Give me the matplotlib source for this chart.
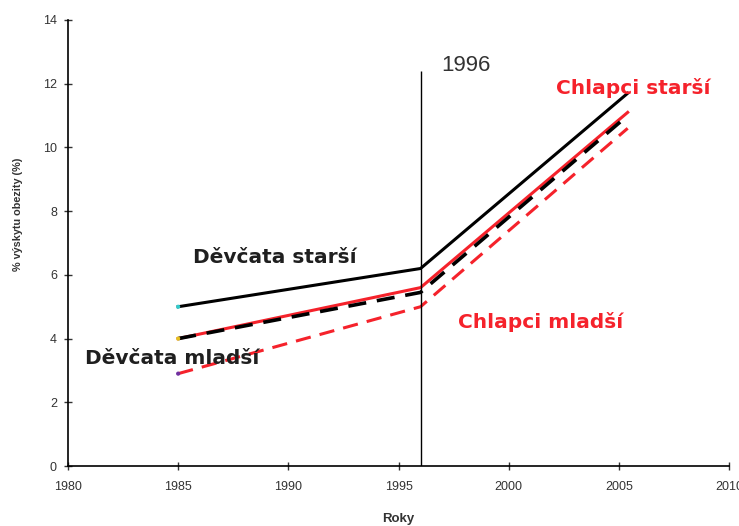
import matplotlib.pyplot as plt

years = [1985, 1996, 2005.4]
divky_starsi = [5.0, 6.2, 11.7]
chlapci_starsi = [4.0, 5.6, 11.1]
divky_mladsi = [4.0, 5.45, 11.0]
chlapci_mladsi = [2.9, 5.0, 10.6]

x_ticks = [1980, 1985, 1990, 1995, 2000, 2005, 2010]
y_ticks = [0, 2, 4, 6, 8, 10, 12, 14]

RED = '#f5222b'
DARK = '#1f1f1f'
GREY = '#333333'

plt.rcParams['font.family'] = ['Liberation Sans', 'DejaVu Sans']

fig = plt.figure(figsize=(7.39, 5.26), dpi=100)
ax = fig.add_axes([0.092, 0.114, 0.8945, 0.848])

ax.plot(years, divky_starsi, color='black', lw=2.2)
ax.plot(years, chlapci_starsi, color=RED, lw=2.2)
ax.plot(years, divky_mladsi, color='black', lw=2.6, dashes=(5, 3))
ax.plot(years, chlapci_mladsi, color=RED, lw=2.2, dashes=(5, 3))

# small coloured dots at the first points, as in the source
ax.scatter([1985, 1985, 1985], [divky_starsi[0], divky_mladsi[0], chlapci_mladsi[0]],
           s=4, c=['#33cccc', '#e6c020', '#7030a0'], zorder=3)

ax.vlines(1996, 0, 12.4, color='black', lw=1)

ax.set_xlim(1980, 2010)
ax.set_ylim(0, 14)
ax.set_xticks(x_ticks)
ax.set_yticks(y_ticks)
ax.spines['top'].set_visible(False)
ax.spines['right'].set_visible(False)
ax.spines['left'].set_linewidth(1.2)
ax.spines['bottom'].set_linewidth(1.2)
ax.tick_params(direction='inout', length=6, width=1, labelsize=9, colors=GREY)
ax.tick_params(axis='x', pad=8)
ax.tick_params(axis='y', pad=5)

ax.set_xlabel('Roky', fontsize=9.5, fontweight='bold', color=GREY, labelpad=14)
ax.set_ylabel('% výskytu obezity (%)', fontsize=7.8, fontweight='bold', color=GREY)
ax.yaxis.set_label_coords(-0.068, 0.565)

label_font = dict(fontsize=14.5, fontweight='bold', family='DejaVu Sans', va='center')
ax.text(1985.67, 6.53, 'Děvčata starší', color=DARK, **label_font)
ax.text(1980.77, 3.39, 'Děvčata mladší', color=DARK, **label_font)
ax.text(2002.15, 11.86, 'Chlapci starší', color=RED, **label_font)
ax.text(1997.7, 4.52, 'Chlapci mladší', color=RED, **label_font)
ax.text(1996.93, 12.58, '1996', fontsize=16, color=GREY, va='center')

fig.savefig('out.png', dpi=100)
